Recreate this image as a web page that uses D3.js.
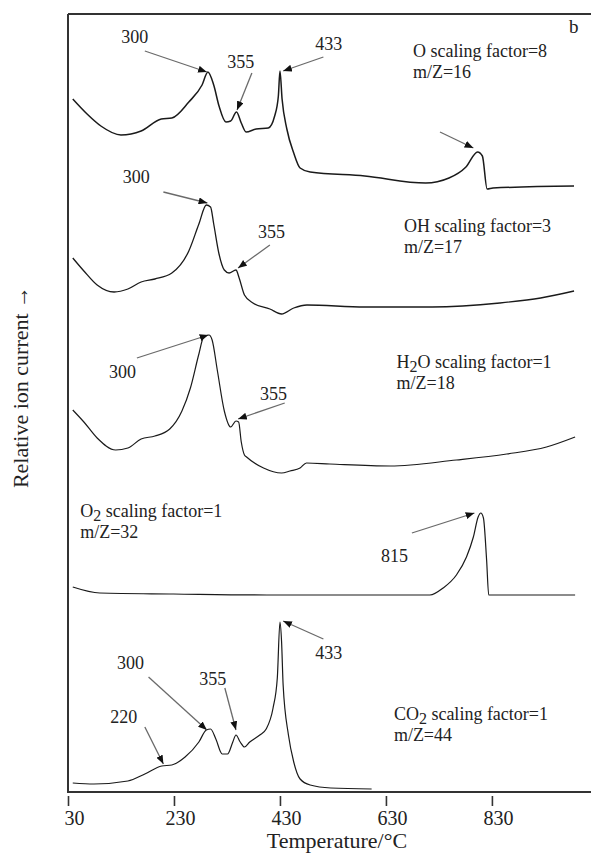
<!DOCTYPE html>
<html>
<head>
<meta charset="utf-8">
<script src="https://cdn.jsdelivr.net/npm/d3@7"></script>
<style>
  html, body { margin: 0; padding: 0; background: #fff; }
  svg { display: block; font-family: "Liberation Serif", "Times New Roman", serif; }
</style>
</head>
<body>
<div id="chart"></div>
<script>
// temperature (°C), relative ion current (arbitrary units, offset per trace)
const oTrace = [[39,693],[66,678],[92,666],[130,657],[168,661],[206,673],[226,674],[258,690],[283,707],[294,720],[305,707],[315,686],[328,670],[337,671],[348,680],[357,669],[366,660],[385,663],[408,664],[420,676],[427,696],[430,721],[434,693],[443,663],[456,639],[468,624],[487,620],[590,616],[705,609],[749,614],[781,625],[803,640],[812,636],[821,603],[832,604],[985,606]];
const ohTrace = [[39,534],[60,521],[85,507],[117,500],[143,503],[168,510],[194,513],[226,519],[258,541],[277,568],[291,587],[299,585],[305,568],[315,538],[325,522],[334,519],[347,522],[353,514],[363,497],[379,489],[411,483],[433,478],[456,484],[481,487],[590,485],[717,485],[845,489],[922,494],[985,501]];
const h2oTrace = [[39,382],[60,370],[85,354],[120,342],[143,344],[168,353],[194,356],[222,363],[245,381],[261,404],[277,438],[286,455],[296,457],[302,452],[312,421],[325,381],[337,365],[347,371],[352,370],[357,350],[363,337],[367,335],[399,324],[433,319],[449,321],[468,324],[480,329],[524,328],[638,326],[763,332],[858,338],[933,345],[987,355]];
const o2Trace = [[39,205],[90,199],[229,198],[405,197],[449,197],[713,197],[738,204],[763,217],[782,235],[795,255],[804,275],[809,279],[814,274],[820,232],[824,197],[987,197]];
const co2Trace = [[39,9],[79,8],[143,11],[175,18],[207,26],[226,27],[251,35],[277,50],[291,62],[299,63],[309,53],[321,38],[331,38],[341,50],[347,57],[355,50],[363,45],[373,50],[392,57],[404,63],[417,84],[425,114],[430,170],[433,151],[436,107],[446,57],[456,30],[468,13],[487,7],[526,4],[603,3]];

const xTicks = [30, 230, 430, 630, 830];

// series captions: [main, subscript, rest, second line, T, v]
const captions = [
  ['O', '', ' scaling factor=8', 'm/Z=16', 681, 735],
  ['OH', '', ' scaling factor=3', 'm/Z=17', 664, 560],
  ['H', '2', 'O scaling factor=1', 'm/Z=18', 650, 424],
  ['O', '2', ' scaling factor=1', 'm/Z=32', 53, 275],
  ['CO', '2', ' scaling factor=1', 'm/Z=44', 645, 72]
];

// peak arrows: label, label pos, tail, tip (all in T, v)
const peakNotes = [
  ['300', [156,749], [175,741], [292,720]],
  ['355', [356,724], [377,719], [349,682]],
  ['433', [522,742], [512,735], [436,721]],
  ['',    [0,0],     [732,660], [795,644]],
  ['300', [159,609], [210,600], [293,589]],
  ['355', [414,554], [411,547], [351,524]],
  ['300', [133,414], [160,434], [295,457]],
  ['355', [418,392], [439,389], [351,373]],
  ['815', [646,230], [679,259], [797,279]],
  ['433', [522,133], [512,153], [436,171]],
  ['300', [148,123], [182,115], [292,62]],
  ['355', [303,107], [326,104], [347,62]],
  ['220', [135,69],  [175,65],  [210,28]]
];

const W = 591, H = 854;
const svg = d3.select('#chart').append('svg')
  .attr('width', W).attr('height', H);

const x = d3.scaleLinear().domain([30, 1017]).range([68, 591]);
const y = d3.scaleLinear().domain([0, 778]).range([792, 14]);

svg.append('defs').append('marker')
  .attr('id', 'head')
  .attr('markerUnits', 'userSpaceOnUse')
  .attr('viewBox', '0 0 10 8')
  .attr('refX', 10).attr('refY', 4)
  .attr('markerWidth', 9).attr('markerHeight', 7)
  .attr('orient', 'auto')
  .append('path').attr('d', 'M0,0L10,4L0,8Z').attr('fill', '#111');

// frame: left, top, bottom
const frame = svg.append('g').attr('stroke', '#333').attr('stroke-width', 2).attr('fill', 'none');
frame.append('path').attr('d', `M${x(30)},${y(778)}V${y(0)}H${x(1017)}`);
frame.append('path').attr('d', `M${x(30)},${y(778)}H${x(1017)}`);

// x axis (ticks sit slightly below the frame)
const xAxis = svg.append('g')
  .attr('transform', `translate(0,${y(0) + 4})`)
  .call(d3.axisBottom(x).tickValues(xTicks).tickSize(10).tickPadding(5).tickFormat(d3.format('d')));
xAxis.select('.domain').remove();
xAxis.selectAll('.tick line').attr('stroke', '#333').attr('stroke-width', 1.6);
xAxis.selectAll('.tick text')
  .attr('font-family', '"Liberation Serif", serif')
  .attr('font-size', 20).attr('fill', '#222').attr('dx', 6);

svg.append('text')
  .attr('x', 337).attr('y', 848)
  .attr('text-anchor', 'middle')
  .attr('font-size', 22).attr('fill', '#222')
  .text('Temperature/°C');

svg.append('text')
  .attr('transform', 'translate(28,387) rotate(-90)')
  .attr('text-anchor', 'middle')
  .attr('font-size', 22).attr('fill', '#222')
  .text('Relative ion current →');

svg.append('text')
  .attr('x', 569).attr('y', 33)
  .attr('font-size', 19).attr('fill', '#222')
  .text('b');

const line = d3.line()
  .x(d => x(d[0]))
  .y(d => y(d[1]))
  .curve(d3.curveMonotoneX);

const traces = [
  { data: oTrace, w: 1.5 },
  { data: ohTrace, w: 1.3 },
  { data: h2oTrace, w: 1.2 },
  { data: o2Trace, w: 1.2 },
  { data: co2Trace, w: 1.2 }
];

svg.append('g').selectAll('path')
  .data(traces)
  .enter()
  .append('path')
  .attr('d', d => line(d.data))
  .attr('fill', 'none')
  .attr('stroke', '#1a1a1a')
  .attr('stroke-width', d => d.w)
  .attr('stroke-linejoin', 'round');

// arrows
const notes = svg.append('g');
notes.selectAll('line')
  .data(peakNotes)
  .enter()
  .append('line')
  .attr('x1', d => x(d[2][0])).attr('y1', d => y(d[2][1]))
  .attr('x2', d => x(d[3][0])).attr('y2', d => y(d[3][1]))
  .attr('stroke', '#6a6a6a')
  .attr('stroke-width', 1.3)
  .attr('marker-end', 'url(#head)');

notes.selectAll('text')
  .data(peakNotes.filter(d => d[0]))
  .enter()
  .append('text')
  .attr('x', d => x(d[1][0])).attr('y', d => y(d[1][1]))
  .attr('text-anchor', 'middle')
  .attr('font-size', 18).attr('fill', '#222')
  .text(d => d[0]);

// captions
const cap = svg.append('g').selectAll('g')
  .data(captions)
  .enter()
  .append('g')
  .attr('font-size', 18).attr('fill', '#222');

const first = cap.append('text')
  .attr('x', d => x(d[4])).attr('y', d => y(d[5]));
first.append('tspan').text(d => d[0]);
first.append('tspan').attr('dy', d => d[1] ? 4 : 0).attr('font-size', 16).text(d => d[1]);
first.append('tspan').attr('dy', d => d[1] ? -4 : 0).text(d => d[2]);

cap.append('text')
  .attr('x', d => x(d[4])).attr('y', d => y(d[5]) + 21)
  .text(d => d[3]);
</script>
</body>
</html>
